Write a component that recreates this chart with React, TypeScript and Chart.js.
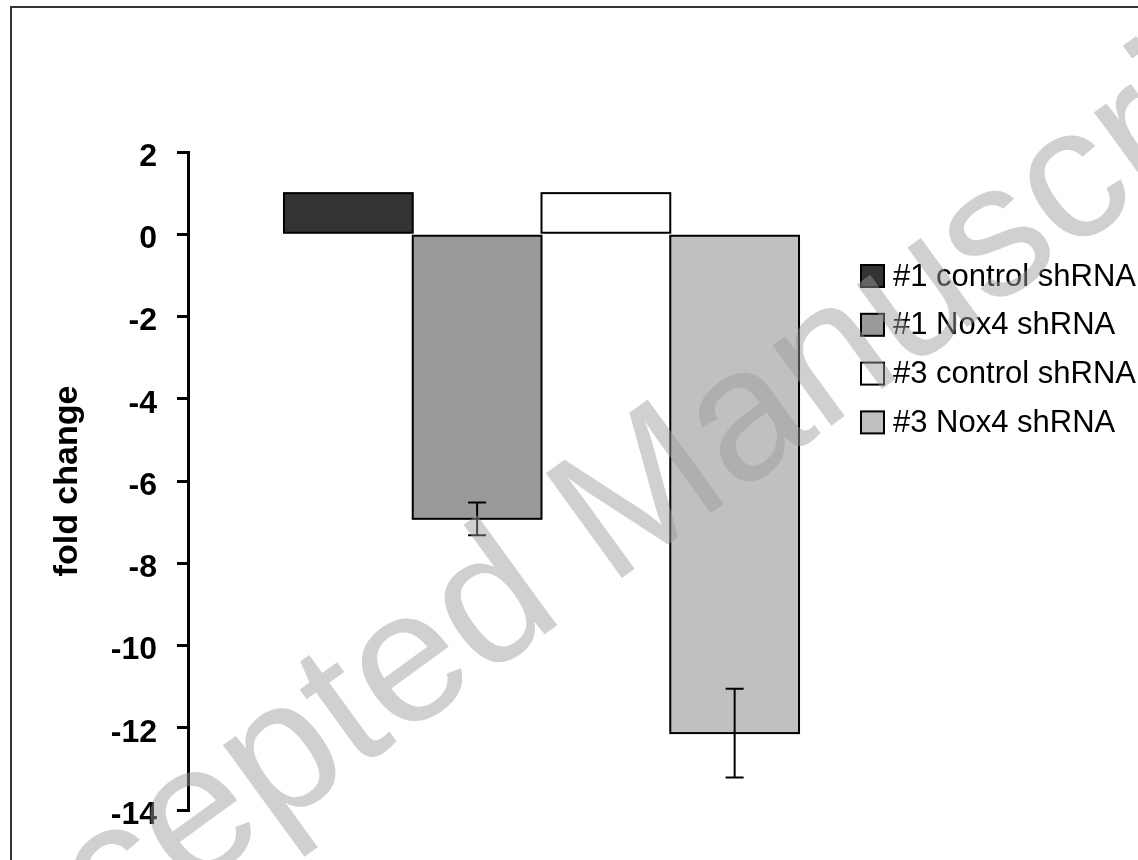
import React, { useEffect, useRef } from "react";
import { Chart, registerables } from "chart.js";

Chart.register(...registerables);

// ---- data ----
const categories = ["fold change"];
const seriesLabels = ["#1 control shRNA", "#1 Nox4 shRNA", "#3 control shRNA", "#3 Nox4 shRNA"];
const seriesValues = [1, -6.92, 1, -12.13];
const seriesErrors = [0, 0.4, 0, 1.08];
const seriesColors = ["#333333", "#999999", "#ffffff", "#c0c0c0"];
const yMin = -14;
const yMax = 2;
const yStep = 2;
const yTitle = "fold change";
const watermarkText = "Accepted Manuscript";

const FONT = "'Liberation Sans', Arial, Helvetica, sans-serif";

const barOutlinePlugin = {
  id: "barOutline",
  afterDatasetsDraw(chart: any) {
    const ctx = chart.ctx;
    ctx.save();
    ctx.strokeStyle = "#000";
    ctx.lineWidth = 2;
    chart.data.datasets.forEach((_ds: any, i: number) => {
      const meta = chart.getDatasetMeta(i);
      meta.data.forEach((bar: any) => {
        const p = bar.getProps(["x", "y", "base", "width"], true);
        const left = p.x - p.width / 2;
        const top = Math.min(p.y, p.base);
        const h = Math.abs(p.base - p.y);
        ctx.strokeRect(left, top, p.width, h);
      });
    });
    ctx.restore();
  },
};

const errorBarPlugin = {
  id: "errorBars",
  afterDatasetsDraw(chart: any) {
    const ctx = chart.ctx;
    const yScale = chart.scales.y;
    chart.data.datasets.forEach((_ds: any, i: number) => {
      const err = seriesErrors[i];
      if (!err) return;
      const meta = chart.getDatasetMeta(i);
      const bar = meta.data[0];
      if (!bar) return;
      const v = seriesValues[i];
      const x = bar.x;
      const yTop = yScale.getPixelForValue(v + err);
      const yBot = yScale.getPixelForValue(v - err);
      const cap = 9;
      ctx.save();
      ctx.strokeStyle = "#000";
      ctx.lineWidth = 2;
      ctx.beginPath();
      ctx.moveTo(x, yTop);
      ctx.lineTo(x, yBot);
      ctx.moveTo(x - cap, yTop);
      ctx.lineTo(x + cap, yTop);
      ctx.moveTo(x - cap, yBot);
      ctx.lineTo(x + cap, yBot);
      ctx.stroke();
      ctx.restore();
    });
  },
};

const legendPlugin = {
  id: "customLegend",
  afterDraw(chart: any) {
    const ctx = chart.ctx;
    const area = chart.chartArea;
    const boxX = area.right - 34;
    const textX = area.right - 2;
    const firstY = area.top + 124;
    const gap = 48.8;
    ctx.save();
    ctx.font = `31px ${FONT}`;
    ctx.textBaseline = "middle";
    ctx.textAlign = "left";
    seriesLabels.forEach((label, i) => {
      const cy = firstY + i * gap;
      ctx.fillStyle = seriesColors[i];
      ctx.fillRect(boxX, cy - 11, 23, 22);
      ctx.strokeStyle = "#000";
      ctx.lineWidth = 2;
      ctx.strokeRect(boxX, cy - 11, 23, 22);
      ctx.fillStyle = "#000";
      ctx.fillText(label, textX, cy + 1);
    });
    ctx.restore();
  },
};

export default function App() {
  const canvasRef = useRef<HTMLCanvasElement | null>(null);

  useEffect(() => {
    document.body.style.margin = "0";
    const canvas = canvasRef.current;
    if (!canvas) return;
    const chart = new Chart(canvas, {
      type: "bar",
      data: {
        labels: categories,
        datasets: seriesLabels.map((label, i) => ({
          label,
          data: [seriesValues[i]],
          backgroundColor: seriesColors[i],
          borderWidth: 0,
          categoryPercentage: 0.7285,
          barPercentage: 1,
        })),
      },
      options: {
        animation: false,
        responsive: false,
        maintainAspectRatio: false,
        devicePixelRatio: 1,
        layout: {
          padding: { left: 43, top: 152, right: 243, bottom: 50 },
        },
        plugins: {
          legend: { display: false },
          tooltip: { enabled: false },
          title: { display: false },
        },
        scales: {
          x: {
            display: false,
          },
          y: {
            min: yMin,
            max: yMax,
            afterFit(scale: any) {
              scale.width = 145;
            },
            ticks: {
              stepSize: yStep,
              color: "#000",
              padding: 20,
              labelOffset: 5,
              font: { family: FONT, size: 32, weight: "bold" },
            },
            grid: {
              drawOnChartArea: false,
              drawTicks: true,
              tickLength: 11,
              color: "#000",
              lineWidth: 3,
            },
            border: {
              display: true,
              color: "#000",
              width: 3,
            },
            title: {
              display: true,
              text: yTitle,
              color: "#000",
              font: { family: FONT, size: 34, weight: "bold" },
              padding: { top: 4, bottom: 4 },
            },
          },
        },
      },
      plugins: [barOutlinePlugin, errorBarPlugin, legendPlugin],
    });
    return () => chart.destroy();
  }, []);

  return (
    <div
      style={{
        position: "relative",
        width: 1138,
        height: 860,
        overflow: "hidden",
        background: "#fff",
        fontFamily: FONT,
      }}
    >
      <canvas ref={canvasRef} width={1138} height={860} style={{ display: "block" }} />
      <div
        style={{
          position: "absolute",
          left: 10,
          top: 6,
          width: 2000,
          height: 2000,
          borderLeft: "2px solid #333",
          borderTop: "2px solid #333",
          pointerEvents: "none",
        }}
      />
      <div
        style={{
          position: "absolute",
          left: 605,
          top: 510,
          transform: "translate(-50%, -50%) rotate(-36deg)",
          fontFamily: FONT,
          fontSize: 188,
          lineHeight: 1,
          whiteSpace: "nowrap",
          color: "rgba(155,155,155,0.47)",
          pointerEvents: "none",
        }}
      >
        {watermarkText}
      </div>
    </div>
  );
}
